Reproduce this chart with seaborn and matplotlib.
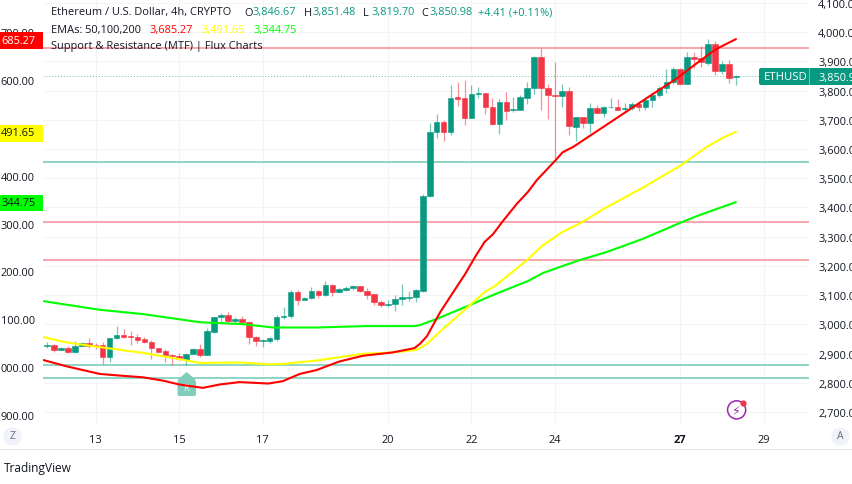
import matplotlib
matplotlib.use("Agg")
import matplotlib.pyplot as plt
import pandas as pd
import seaborn as sns
from matplotlib.patches import FancyBboxPatch, Polygon, Rectangle
from matplotlib.transforms import IdentityTransform

# ── Data ────────────────────────────────────────────────────
opens = [2925, 2930, 2913, 2920, 2905, 2928, 2937, 2929, 2929, 2888,
         2952, 2964, 2961, 2957, 2951, 2941, 2919, 2908, 2897, 2892,
         2880, 2900, 2915, 2896, 2973, 3024, 3032, 3011, 3017, 3008,
         2956, 2944, 2945, 2949, 3024, 3028, 3112, 3085, 3091, 3114,
         3102, 3136, 3110, 3119, 3124, 3130, 3116, 3103, 3078, 3065,
         3071, 3086, 3092, 3093, 3116, 3440, 3657, 3694, 3657, 3778,
         3776, 3707, 3787, 3792, 3745, 3686, 3760, 3734, 3734, 3776,
         3808, 3915, 3810, 3786, 3780, 3800, 3676, 3709, 3688, 3740,
         3724, 3742, 3744, 3736, 3739, 3754, 3745, 3768, 3783, 3810,
         3829, 3875, 3823, 3914, 3911, 3895, 3960, 3868, 3890, 3846.67]
highs = [2939, 2933, 2923, 2926, 2944, 2941, 2955, 2937, 2941, 2955,
         2994, 2985, 2978, 2967, 2956, 2948, 2921, 2916, 2899, 2903,
         2903, 2919, 2933, 2989, 3027, 3038, 3042, 3024, 3028, 3013,
         2962, 2951, 2956, 3033, 3060, 3119, 3119, 3094, 3127, 3119,
         3147, 3140, 3126, 3133, 3136, 3133, 3124, 3104, 3083, 3083,
         3101, 3139, 3116, 3122, 3445, 3689, 3720, 3699, 3819, 3830,
         3836, 3820, 3811, 3792, 3776, 3771, 3794, 3778, 3785, 3828,
         3917, 3945, 3823, 3897, 3823, 3811, 3711, 3711, 3756, 3751,
         3747, 3775, 3772, 3758, 3762, 3759, 3774, 3792, 3817, 3872,
         3881, 3876, 3933, 3931, 3951, 3975, 3969, 3900, 3905, 3851.48]
lows = [2919, 2907, 2911, 2904, 2904, 2926, 2921, 2916, 2865, 2873,
        2951, 2953, 2930, 2937, 2937, 2882, 2905, 2873, 2862, 2878,
        2862, 2898, 2887, 2894, 2970, 3010, 3002, 3005, 2998, 2933,
        2926, 2923, 2937, 2944, 3020, 3022, 3067, 3082, 3087, 3092,
        3099, 3097, 3107, 3115, 3119, 3112, 3087, 3068, 3060, 3058,
        3047, 3067, 3079, 3078, 3112, 3435, 3639, 3628, 3648, 3748,
        3682, 3705, 3775, 3721, 3683, 3653, 3698, 3726, 3733, 3755,
        3789, 3732, 3703, 3569, 3742, 3648, 3629, 3672, 3655, 3723,
        3709, 3740, 3733, 3731, 3735, 3729, 3732, 3742, 3777, 3792,
        3823, 3819, 3822, 3876, 3880, 3888, 3854, 3858, 3825, 3819.70]
closes = [2930, 2911, 2920, 2905, 2928, 2937, 2926, 2926, 2888, 2953,
          2964, 2957, 2956, 2948, 2940, 2919, 2907, 2896, 2892, 2881,
          2900, 2915, 2896, 2977, 3024, 3032, 3013, 3018, 3008, 2956,
          2945, 2947, 2952, 3025, 3030, 3112, 3084, 3091, 3114, 3102,
          3136, 3110, 3120, 3125, 3130, 3116, 3102, 3078, 3065, 3071,
          3087, 3093, 3094, 3118, 3440, 3659, 3694, 3657, 3776, 3772,
          3707, 3788, 3792, 3744, 3686, 3760, 3731, 3737, 3778, 3809,
          3915, 3810, 3785, 3780, 3800, 3677, 3709, 3688, 3740, 3724,
          3743, 3745, 3735, 3740, 3754, 3745, 3768, 3785, 3810, 3830,
          3875, 3823, 3915, 3908, 3897, 3960, 3867, 3890, 3843, 3850.98]

ema50_bar = [-0.5, 2.8, 5.2, 7.6, 11, 13.8, 16.7, 19, 22.4, 24.8, 27.7, 31.8, 33.9, 36.3, 38.7, 42, 45.4, 49.7, 52.8,
             53.6, 54.6, 56.5, 58.2, 60.1, 61.5, 62.9, 64.1, 65.5, 67.5, 69.1, 70.4, 73, 74.1, 75.6, 78.4,
             83.8, 87.1, 90.4, 93.2, 96.1, 99]
ema50 = [3015, 3002, 2994, 2986, 2982, 2979, 2972, 2964, 2957, 2964, 2969, 2966, 2971, 2986, 2994, 3012, 3024, 3031, 3040,
         3049, 3065, 3115, 3153, 3195, 3230, 3262, 3278, 3305, 3341, 3366, 3391, 3431, 3449, 3460, 3487,
         3539, 3571, 3602, 3633, 3664, 3685.27]
ema100_bar = [-0.5, 2.8, 7.6, 13.8, 19, 22, 27.7, 32, 33.9, 38.7, 45.4, 49.7, 53,
              53.6, 54.6, 56.9, 59.8, 62.9, 64.4, 69, 71.1, 74, 76.9, 79.9, 85.5, 90.9, 94.8, 97.1, 99]
ema100 = [3063, 3052, 3042, 3030, 3017, 3009, 3010, 3006, 3007, 3014, 3028, 3031, 3036,
          3040, 3049, 3080, 3117, 3157, 3170, 3224, 3253, 3282, 3303, 3330, 3374, 3420, 3460, 3479, 3491.65]
ema200_bar = [-0.5, 7.6, 13.8, 22, 28.2, 32.5, 38.7, 45.9, 52.8,
              53.6, 56, 60.8, 64.1, 69.1, 71.3, 74, 76.6, 80.5, 85.6, 90.9, 93.8, 99]
ema200 = [3138, 3120, 3111, 3094, 3090, 3083, 3083, 3086, 3086,
          3088, 3101, 3130, 3151, 3180, 3197, 3211, 3224, 3241, 3268, 3301, 3318, 3344.75]

resistance_levels = [3945, 3351, 3220]
support_levels = [3556, 2861, 2817]

day_ticks = [7, 19, 31, 49, 61, 73, 91, 103]
day_labels = ["13", "15", "17", "20", "22", "24", "27", "29"]
price_ticks = [4100, 4000, 3900, 3800, 3700, 3600, 3500, 3400, 3300, 3200, 3100, 3000, 2900, 2800, 2700]
price_labels = ["4,100.00", "4,000.00", "3,900.00", "3,800.00", "3,700.00", "3,600.00", "3,500.00", "3,400.00",
                "3,300.00", "3,200.00", "3,100.00", "3,000.00", "2,900.00", "2,800.00", "2,700.00"]
ema_ticks = [3700, 3600, 3500, 3400, 3300, 3200, 3100, 3000, 2900]
ema_labels = ["700.00", "600.00", "500.00", "400.00", "300.00", "200.00", "100.00", "000.00", "900.00"]
last_price = 3850.98

# ── Style ───────────────────────────────────────────────────
W, H = 852, 485
UP = "#089981"
DOWN = "#f23645"
INK = "#131722"
GRID = "#f3f4f7"
FONT = "Open Sans"
TEXT_SIZE = 7.9

sns.set_theme(style="white", rc={"font.family": FONT, "text.color": INK,
                                 "xtick.color": INK, "ytick.color": INK})
fig = plt.figure(figsize=(W / 100, H / 100), dpi=100, facecolor="white")
ax = fig.add_axes([43 / W, (H - 424) / H, 766 / W, 424 / H])
ema_ax = ax.twinx()
ema_ax.patch.set_visible(False)

# ── Candles ─────────────────────────────────────────────────
df = pd.DataFrame({"open": opens, "high": highs, "low": lows, "close": closes})
df["bar"] = df.index
df["color"] = [UP if c >= o else DOWN for o, c in zip(df["open"], df["close"])]

for level in resistance_levels:
    ax.axhline(level, color="#f7a6ac", lw=1.4, zorder=1.5)
for level in support_levels:
    ax.axhline(level, color="#8ed4c5", lw=1.4, zorder=1.5)
ax.axhline(last_price, color=UP, lw=0.7, ls=(0, (1, 2)), alpha=0.6, zorder=1.5)

ax.vlines(df["bar"], df["low"], df["high"], colors=df["color"], lw=0.9, alpha=0.55, zorder=2)
ax.bar(df["bar"], (df["close"] - df["open"]).abs(), bottom=df[["open", "close"]].min(axis=1),
       width=0.8, color=df["color"], edgecolor=df["color"], lw=0.4, zorder=3)

# "R" signal flag under the low of the 15th
ax.add_patch(FancyBboxPatch((177.5, H - 397), 18.5, 16, transform=IdentityTransform(),
                            boxstyle="round,pad=0,rounding_size=2", fc="#82ccbb", ec="none", zorder=2.5))
ax.add_patch(Polygon([(177.5, H - 381), (186.7, H - 373), (196, H - 381)], transform=IdentityTransform(),
                     fc="#82ccbb", ec="none", zorder=2.5))
ax.text(20, 2786, "R", color="white", fontsize=6.5, ha="center", va="center", zorder=2.6)

# ── EMAs (these follow the left hand scale) ─────────────────
for xs, ys, color in [(ema200_bar, ema200, "#00ff00"),
                      (ema100_bar, ema100, "#ffff00"),
                      (ema50_bar, ema50, "#ff0000")]:
    sns.lineplot(data=pd.DataFrame({"bar": xs, "ema": ys}), x="bar", y="ema",
                 ax=ema_ax, color=color, lw=1.5, legend=False)

# Alert icon
ax.scatter([99.1], [2708], marker="o", s=170, facecolors="none", edgecolors="#9c27b0", lw=1.1, zorder=4)
ax.text(99.1, 2708, "\u26a1", color="#9c27b0", fontsize=9, ha="center", va="center",
        family="DejaVu Sans", zorder=4)
ax.scatter([100], [2732], marker="o", s=20, color=DOWN, lw=0, zorder=5)

# ── Axes ────────────────────────────────────────────────────
ax.set_xlim(-0.575, 109.5)
ax.set_ylim(2663, 4113)
ema_ax.set_ylim(2883.6, 3769)

ax.yaxis.tick_right()
ema_ax.yaxis.tick_left()
ax.set_xticks(day_ticks, day_labels)
ax.set_yticks(price_ticks, price_labels)
ema_ax.set_yticks(ema_ticks, ema_labels)
ax.set_xlabel("")
ax.set_ylabel("")
ema_ax.set_xlabel("")
ema_ax.set_ylabel("")
ax.tick_params(axis="x", length=0, pad=8, labelsize=TEXT_SIZE)
ax.tick_params(axis="y", length=0, pad=6.5, labelsize=TEXT_SIZE)
ema_ax.tick_params(axis="y", length=0, pad=5.8, labelsize=TEXT_SIZE)
ax.get_xticklabels()[day_labels.index("27")].set_fontweight("bold")
ax.grid(True, color=GRID, lw=0.8)
ax.set_axisbelow(True)
for side in ["top", "right", "bottom", "left"]:
    ax.spines[side].set_visible(False)
    ema_ax.spines[side].set_visible(False)


# ── Screen furniture, placed in pixels from the top left ────
def box(x0, y0, x1, y1, color, rounding=0):
    if rounding:
        fig.add_artist(FancyBboxPatch((x0, H - y1), x1 - x0, y1 - y0, transform=IdentityTransform(),
                                      boxstyle=f"round,pad=0,rounding_size={rounding}", fc=color, ec="none"))
    else:
        fig.add_artist(Rectangle((x0, H - y1), x1 - x0, y1 - y0, transform=IdentityTransform(), fc=color, ec="none"))


def label(x, y, text, color=INK, size=TEXT_SIZE, ha="left", **kw):
    fig.text(x / W, 1 - y / H, text, color=color, fontsize=size, ha=ha, va="center", **kw)


box(0, 33, 43, 50, "#ff0000")
label(1, 41.5, "685.27", "white")
box(0, 126, 43, 143, "#ffff00")
label(1, 134, "491.65")
box(0, 196, 43, 212, "#00ff00")
label(1, 204, "344.75")

box(759, 69, 812, 86, UP, rounding=2)
label(764, 78, "ETHUSD", "white", size=8.2)
box(809, 69, 852, 86, UP)
box(809, 69, 810, 86, "#6cc3b2")
label(818, 78, "3,850.98", "white")

label(51, 13, "Ethereum / U.S. Dollar, 4h, CRYPTO")
for x, key, val in [(244, "O", "3,846.67"), (304, "H", "3,851.48"), (363, "L", "3,819.70"), (421, "C", "3,850.98")]:
    label(x, 13, key)
    label(x + 8, 13, val, UP)
label(478, 13, "+4.41 (+0.11%)", UP)
label(51, 30, "EMAs: 50,100,200")
label(149, 30, "3,685.27", "#ff0000")
label(201, 30, "3,491.65", "#ffff00")
label(253, 30, "3,344.75", "#00ff00")
label(51, 47, "Support & Resistance (MTF) | Flux Charts")

box(3.5, 428.5, 21.5, 446.5, "#f0f3fa", rounding=9)
label(12.5, 437, "Z", "#6a6d78", size=7.5, ha="center")
box(831.5, 428.5, 849.5, 446.5, "#f0f3fa", rounding=9)
label(840.5, 437, "A", "#6a6d78", size=7.5, ha="center")
box(0, 450, W, 451, "#e6e8ee")
label(4, 469, "TradingView", size=8.6)

fig.savefig("out.png", dpi=100)
